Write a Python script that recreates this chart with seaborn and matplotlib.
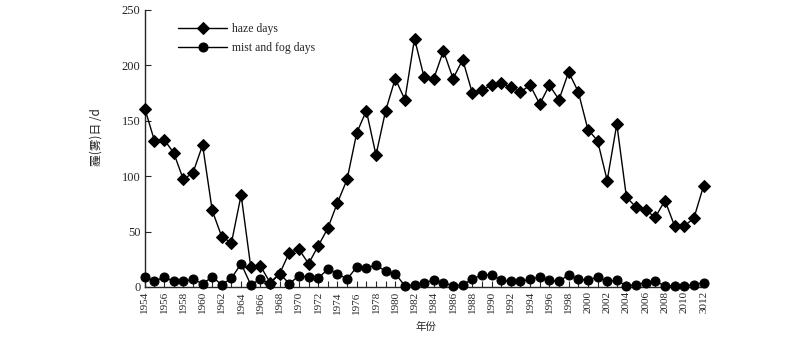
"""Haze days and mist/fog days per year, 1954-2012."""

import matplotlib.pyplot as plt
import numpy as np
import pandas as pd
import seaborn as sns
from matplotlib.ticker import MultipleLocator

YEARS = list(range(1954, 2013))
HAZE_DAYS = [
    161, 132, 133, 121, 97, 103, 128, 69, 45, 40,
    83, 18, 19, 4, 12, 31, 34, 21, 37, 53,
    76, 97, 139, 159, 119, 159, 188, 169, 224, 189,
    188, 213, 188, 205, 175, 178, 182, 184, 180, 176,
    182, 165, 182, 169, 194, 176, 142, 132, 96, 147,
    81, 72, 69, 63, 78, 55, 55, 62, 91,
]
FOG_DAYS = [
    9, 5, 9, 5, 5, 7, 3, 9, 2, 8,
    21, 2, 7, 3, 12, 3, 10, 9, 8, 16,
    12, 7, 18, 17, 20, 14, 12, 1, 2, 4,
    6, 4, 1, 2, 7, 11, 11, 6, 5, 5,
    7, 9, 6, 5, 11, 7, 6, 9, 5, 6,
    1, 2, 4, 5, 1, 1, 1, 2, 4,
]
TICK_YEARS = list(range(1954, 2013, 2))
TICK_LABELS = [str(y) for y in TICK_YEARS[:-1]] + ["3012"]

SERIF = ["Liberation Serif", "DejaVu Serif"]
CJK = ["Noto Sans CJK SC", "DejaVu Sans"]


def main() -> None:
    sns.set_style("ticks")
    plt.rcParams["font.family"] = SERIF

    df = pd.DataFrame({"year": YEARS, "haze": HAZE_DAYS, "fog": FOG_DAYS})

    fig = plt.figure(figsize=(8.0, 3.4), dpi=100)
    ax = fig.add_axes([0.181, 0.156, 0.702, 0.815])

    sns.lineplot(data=df, x="year", y="haze", ax=ax, color="black",
                 marker="D", markersize=6, markeredgecolor="black",
                 linewidth=1.0, label="haze days", clip_on=False, zorder=3)
    sns.lineplot(data=df, x="year", y="fog", ax=ax, color="black",
                 marker="o", markersize=6.5, markeredgecolor="black",
                 linewidth=1.0, label="mist and fog days", clip_on=False,
                 zorder=3)

    ax.set_xlim(1954, 2012.3)
    ax.set_ylim(0, 250)
    ax.set_xticks(TICK_YEARS)
    ax.set_xticklabels(TICK_LABELS, rotation=90, fontsize=8)
    ax.xaxis.set_minor_locator(MultipleLocator(1))
    ax.set_yticks(np.arange(0, 251, 50))
    ax.tick_params(axis="y", labelsize=9, direction="in", length=4,
                   width=0.8, pad=3)
    ax.tick_params(axis="x", which="both", direction="in", length=4,
                   width=0.8, pad=3)

    for side in ("top", "right"):
        ax.spines[side].set_visible(False)
    for side in ("left", "bottom"):
        ax.spines[side].set_linewidth(1.0)

    ax.set_xlabel("年份", fontsize=7.5, family=CJK, labelpad=6)
    ax.set_ylabel("霾(雾)日 /d", fontsize=8.5, family=CJK)
    ax.yaxis.set_label_coords(-0.075, 0.54)

    ax.legend(loc="upper left", bbox_to_anchor=(0.04, 0.99), frameon=False,
              fontsize=8.5, handlelength=4.2, handletextpad=0.4,
              labelspacing=0.6)

    fig.savefig("out.png", dpi=100)


if __name__ == "__main__":
    main()
